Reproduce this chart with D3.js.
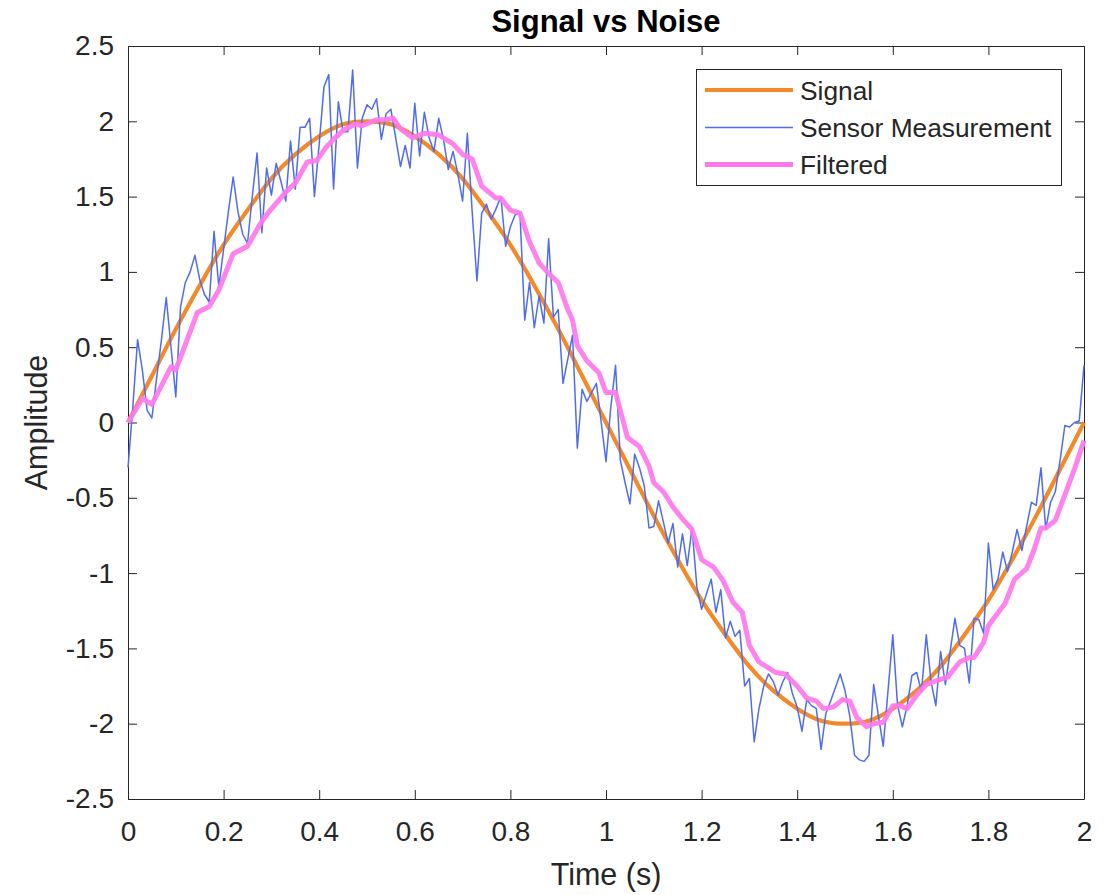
<!DOCTYPE html>
<html>
<head>
<meta charset="utf-8">
<script src="https://cdn.jsdelivr.net/npm/d3@7"></script>
<style>
  html, body { margin: 0; padding: 0; background: #fff; }
  svg { display: block; font-family: "Liberation Sans", Arial, Helvetica, sans-serif; }
</style>
</head>
<body>
<svg id="chart" width="1104" height="895"></svg>
<script>
// ---------------- data ----------------
const sampleStep = 0.01;           // sensor sampling period (s)
const signalStep = 0.05;           // signal read-off spacing (s)

const signalValues = [
  0.00, 0.31, 0.62, 0.91, 1.18, 1.41, 1.62, 1.78, 1.90, 1.98,
  2.00, 1.98, 1.90, 1.78, 1.62, 1.41, 1.18, 0.91, 0.62, 0.31,
  0.00, -0.31, -0.62, -0.91, -1.18, -1.41, -1.62, -1.78, -1.90, -1.98,
  -2.00, -1.98, -1.90, -1.78, -1.62, -1.41, -1.18, -0.91, -0.62, -0.31,
  0.00
];

const sensorValues = [
  -0.30, 0.10, 0.55, 0.35, 0.08, 0.03, 0.30, 0.55, 0.83, 0.50,
  0.17, 0.77, 0.93, 1.00, 1.11, 0.95, 0.85, 0.80, 1.27, 0.90,
  1.15, 1.40, 1.63, 1.40, 1.25, 1.19, 1.50, 1.79, 1.26, 1.69,
  1.51, 1.72, 1.60, 1.47, 1.87, 1.55, 1.96, 1.96, 2.02, 1.50,
  1.85, 2.23, 2.31, 1.55, 2.13, 1.93, 1.93, 2.34, 1.69, 2.02,
  2.11, 2.08, 2.15, 1.88, 2.05, 2.08, 1.89, 1.70, 1.84, 1.69,
  2.12, 1.77, 2.06, 1.89, 1.80, 2.02, 1.88, 1.68, 1.80, 1.65,
  1.47, 1.92, 1.40, 0.94, 1.39, 1.45, 1.35, 1.42, 1.50, 1.17,
  1.30, 1.38, 1.39, 0.68, 0.93, 0.63, 0.84, 0.66, 1.22, 0.70,
  0.75, 0.26, 0.42, 0.58, -0.17, 0.22, 0.14, 0.20, 0.26, 0.00,
  -0.26, 0.10, 0.38, -0.25, -0.40, -0.54, -0.21, -0.30, -0.42, -0.70,
  -0.69, -0.52, -0.66, -0.80, -0.67, -0.96, -0.74, -0.95, -0.70, -1.09,
  -1.24, -1.14, -1.04, -1.26, -1.11, -1.43, -1.32, -1.42, -1.38, -1.75,
  -1.70, -2.12, -1.90, -1.75, -1.67, -1.72, -1.81, -1.72, -1.66, -1.80,
  -1.89, -2.05, -1.84, -1.88, -1.90, -2.17, -1.93, -1.85, -1.76, -1.67,
  -1.78, -1.95, -2.21, -2.24, -2.25, -2.21, -1.74, -1.95, -2.15, -1.78,
  -1.41, -1.88, -2.02, -1.88, -1.68, -1.66, -1.79, -1.41, -1.72, -1.88,
  -1.52, -1.74, -1.52, -1.30, -1.48, -1.50, -1.73, -1.30, -1.31, -1.40,
  -0.80, -1.11, -1.04, -0.86, -0.99, -0.86, -0.71, -0.85, -0.69, -0.53,
  -0.55, -0.30, -0.71, -0.53, -0.46, -0.25, -0.02, -0.03, 0.00, 0.01,
  0.38
];

const filteredTimes = [
  0, 0.03, 0.05, 0.09, 0.10, 0.145, 0.17, 0.19, 0.22, 0.25,
  0.275, 0.29, 0.33, 0.35, 0.375, 0.395, 0.415, 0.43, 0.45, 0.475,
  0.49, 0.52, 0.54, 0.555, 0.57, 0.595, 0.62, 0.65, 0.68, 0.70,
  0.72, 0.74, 0.77, 0.78, 0.80, 0.82, 0.84, 0.86, 0.88, 0.90,
  0.92, 0.93, 0.94, 0.96, 0.985, 1.00, 1.02, 1.045, 1.07, 1.09,
  1.10, 1.12, 1.14, 1.16, 1.18, 1.20, 1.225, 1.245, 1.265, 1.285,
  1.30, 1.32, 1.34, 1.355, 1.375, 1.40, 1.42, 1.44, 1.455, 1.475,
  1.495, 1.51, 1.525, 1.545, 1.56, 1.58, 1.60, 1.615, 1.63, 1.65,
  1.67, 1.695, 1.715, 1.74, 1.76, 1.77, 1.79, 1.80, 1.835, 1.855,
  1.88, 1.895, 1.91, 1.92, 1.94, 1.96, 1.98, 2.00
];
const filteredValues = [
  0.00, 0.16, 0.12, 0.37, 0.35, 0.73, 0.77, 0.88, 1.12, 1.17,
  1.31, 1.38, 1.53, 1.59, 1.73, 1.74, 1.83, 1.88, 1.94, 1.98,
  1.97, 2.01, 2.01, 2.02, 1.95, 1.89, 1.92, 1.91, 1.85, 1.78,
  1.75, 1.57, 1.49, 1.49, 1.41, 1.39, 1.20, 1.06, 0.99, 0.93,
  0.75, 0.68, 0.51, 0.41, 0.33, 0.20, 0.20, -0.10, -0.16, -0.29,
  -0.40, -0.46, -0.56, -0.64, -0.71, -0.91, -0.96, -1.05, -1.19, -1.26,
  -1.48, -1.59, -1.63, -1.66, -1.67, -1.75, -1.83, -1.85, -1.90, -1.89,
  -1.84, -1.85, -1.96, -2.02, -2.00, -1.99, -1.88, -1.88, -1.90, -1.81,
  -1.74, -1.71, -1.69, -1.59, -1.56, -1.56, -1.46, -1.35, -1.20, -1.04,
  -0.97, -0.85, -0.70, -0.70, -0.65, -0.48, -0.31, -0.12
];

const xTickValues = [0, 0.2, 0.4, 0.6, 0.8, 1, 1.2, 1.4, 1.6, 1.8, 2];
const xTickLabels = ["0", "0.2", "0.4", "0.6", "0.8", "1", "1.2", "1.4", "1.6", "1.8", "2"];
const yTickValues = [-2.5, -2, -1.5, -1, -0.5, 0, 0.5, 1, 1.5, 2, 2.5];
const yTickLabels = ["-2.5", "-2", "-1.5", "-1", "-0.5", "0", "0.5", "1", "1.5", "2", "2.5"];

const seriesNames = ["Signal", "Sensor Measurement", "Filtered"];
const seriesColors = ["#F28A2A", "#4F6CEE", "#FF78EC"];
const seriesWidths = [4.2, 1.5, 5];

const titleText = "Signal vs Noise";
const xLabelText = "Time (s)";
const yLabelText = "Amplitude";

// ---------------- chart ----------------
const svg = d3.select("#chart");
const axisColor = "#262626";

const x = d3.scaleLinear().domain([0, 2]).range([128, 1084]);
const y = d3.scaleLinear().domain([-2.5, 2.5]).range([799, 46]);

const signalData = signalValues.map((v, i) => ({ t: i * signalStep, v }));
const sensorData = sensorValues.map((v, i) => ({ t: i * sampleStep, v }));
const filteredData = filteredValues.map((v, i) => ({ t: filteredTimes[i], v }));

// axes
function styleAxis(g) {
  g.selectAll("path.domain").attr("stroke", axisColor).attr("stroke-width", 1);
  g.selectAll(".tick line").attr("stroke", axisColor).attr("stroke-width", 1);
  g.selectAll(".tick text").attr("fill", axisColor).style("font-size", "28px")
    .style("font-family", "'Liberation Sans', Arial, Helvetica, sans-serif");
}

const xAxisB = d3.axisBottom(x).tickValues(xTickValues)
  .tickFormat((d, i) => xTickLabels[i]).tickSizeInner(-9).tickSizeOuter(0).tickPadding(22);
const xAxisT = d3.axisTop(x).tickValues(xTickValues).tickFormat("").tickSizeInner(-9).tickSizeOuter(0);
const yAxisL = d3.axisLeft(y).tickValues(yTickValues)
  .tickFormat((d, i) => yTickLabels[i]).tickSizeInner(-9).tickSizeOuter(0).tickPadding(14);
const yAxisR = d3.axisRight(y).tickValues(yTickValues).tickFormat("").tickSizeInner(-9).tickSizeOuter(0);

svg.append("g").attr("transform", `translate(0,${y(-2.5)})`).call(xAxisB).call(styleAxis);
svg.append("g").attr("transform", `translate(0,${y(2.5)})`).call(xAxisT).call(styleAxis);
svg.append("g").attr("transform", `translate(${x(0)},0)`).call(yAxisL).call(styleAxis);
svg.append("g").attr("transform", `translate(${x(2)},0)`).call(yAxisR).call(styleAxis);

// lines
const plot = svg.append("g");
const signalLine = d3.line().x(d => x(d.t)).y(d => y(d.v)).curve(d3.curveNatural);
const plainLine = d3.line().x(d => x(d.t)).y(d => y(d.v));

plot.append("path").datum(signalData)
  .attr("d", signalLine).attr("fill", "none")
  .attr("stroke", seriesColors[0]).attr("stroke-width", seriesWidths[0])
  .attr("stroke-linejoin", "round");

plot.append("path").datum(sensorData)
  .attr("d", plainLine).attr("fill", "none")
  .attr("stroke", seriesColors[1]).attr("stroke-width", seriesWidths[1])
  .attr("stroke-linejoin", "round");

plot.append("path").datum(filteredData)
  .attr("d", plainLine).attr("fill", "none")
  .attr("stroke", seriesColors[2]).attr("stroke-width", seriesWidths[2])
  .attr("stroke-linejoin", "round").attr("stroke-opacity", 0.92);

// title & labels
svg.append("text").attr("x", (x(0) + x(2)) / 2).attr("y", 32)
  .attr("text-anchor", "middle").attr("fill", "#000")
  .style("font-size", "31px").style("font-weight", "bold")
  .text(titleText);

svg.append("text").attr("x", (x(0) + x(2)) / 2).attr("y", 885)
  .attr("text-anchor", "middle").attr("fill", axisColor)
  .style("font-size", "30.5px")
  .text(xLabelText);

svg.append("text")
  .attr("transform", `translate(47,${(y(-2.5) + y(2.5)) / 2}) rotate(-90)`)
  .attr("text-anchor", "middle").attr("fill", axisColor)
  .style("font-size", "30.5px")
  .text(yLabelText);

// legend
const legend = svg.append("g");
legend.append("rect").attr("x", 696.5).attr("y", 69.5).attr("width", 365).attr("height", 116)
  .attr("fill", "#fff").attr("stroke", axisColor).attr("stroke-width", 1);
const legendRows = [90, 127.5, 164.5];
seriesNames.forEach((name, i) => {
  legend.append("line").attr("x1", 705).attr("x2", 793)
    .attr("y1", legendRows[i]).attr("y2", legendRows[i])
    .attr("stroke", seriesColors[i]).attr("stroke-width", seriesWidths[i]);
  legend.append("text").attr("x", 800).attr("y", legendRows[i] + 9.5)
    .attr("fill", axisColor).style("font-size", "26.3px").text(name);
});
</script>
</body>
</html>
